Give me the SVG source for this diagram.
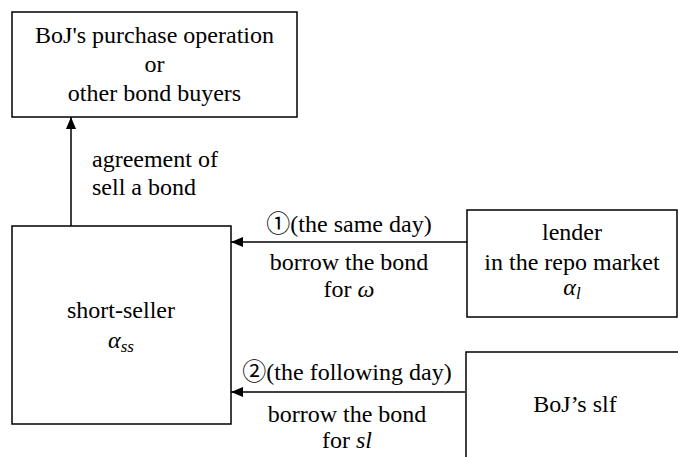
<svg xmlns="http://www.w3.org/2000/svg" width="678" height="457" viewBox="0 0 678 457">
<defs>
<marker id="ah" markerWidth="12" markerHeight="10" refX="12" refY="5" orient="auto" markerUnits="userSpaceOnUse">
<path d="M0,0 L12,5 L0,10 Z" fill="#000"/>
</marker>
</defs>
<g id="connectors" stroke="#000" stroke-width="1.5" fill="none">
<line x1="71" y1="226" x2="71" y2="117" marker-end="url(#ah)"/>
<line x1="467" y1="242" x2="231" y2="242" marker-end="url(#ah)"/>
<line x1="465" y1="392" x2="231" y2="392" marker-end="url(#ah)"/>
</g>
<g id="labels" fill="#000" font-size="24">
<text x="92" y="167" font-family="'Liberation Serif', serif">agreement of</text>
<text x="92" y="195" font-family="'Liberation Serif', serif">sell a bond</text>
<text text-anchor="middle" x="349" y="232" font-family="'Liberation Serif', 'Noto Sans CJK JP', serif">&#x2460;(the same day)</text>
<text text-anchor="middle" x="349" y="270" font-family="'Liberation Serif', serif">borrow the bond</text>
<text text-anchor="middle" x="349" y="297" font-family="'Liberation Serif', serif">for <tspan font-style="italic">&#x3C9;</tspan></text>
<text text-anchor="middle" x="347" y="380" font-family="'Liberation Serif', 'Noto Sans CJK JP', serif">&#x2461;(the following day)</text>
<text text-anchor="middle" x="347" y="422" font-family="'Liberation Serif', serif">borrow the bond</text>
<text text-anchor="middle" x="347" y="448" font-family="'Liberation Serif', serif">for <tspan font-style="italic">sl</tspan></text>
</g>
<g id="buyers" font-size="24">
<rect x="12" y="12" width="285" height="105" fill="#fff" stroke="#000" stroke-width="1.5"/>
<text text-anchor="middle" x="154.5" y="43" font-family="'Liberation Serif', serif">BoJ's purchase operation</text>
<text text-anchor="middle" x="154.5" y="72" font-family="'Liberation Serif', serif">or</text>
<text text-anchor="middle" x="154.5" y="101" font-family="'Liberation Serif', serif">other bond buyers</text>
</g>
<g id="short-seller" font-size="24">
<rect x="12" y="226" width="219" height="198" fill="#fff" stroke="#000" stroke-width="1.5"/>
<text text-anchor="middle" x="121" y="318" font-family="'Liberation Serif', serif">short-seller</text>
<text text-anchor="middle" x="121" y="348" font-style="italic" font-family="'Liberation Serif', serif">&#x3B1;<tspan font-size="17" dy="4">ss</tspan></text>
</g>
<g id="lender" font-size="24">
<rect x="467" y="210" width="210" height="107" fill="#fff" stroke="#000" stroke-width="1.5"/>
<text text-anchor="middle" x="572" y="240" font-family="'Liberation Serif', serif">lender</text>
<text text-anchor="middle" x="572" y="270" font-family="'Liberation Serif', serif">in the repo market</text>
<text text-anchor="middle" x="572" y="295" font-style="italic" font-family="'Liberation Serif', serif">&#x3B1;<tspan font-size="17" dy="4">l</tspan></text>
</g>
<g id="slf" font-size="24">
<rect x="466" y="352" width="230" height="130" fill="#fff" stroke="#000" stroke-width="1.5"/>
<text text-anchor="middle" x="575" y="412" font-family="'Liberation Serif', serif">BoJ&#x2019;s slf</text>
</g>
</svg>
